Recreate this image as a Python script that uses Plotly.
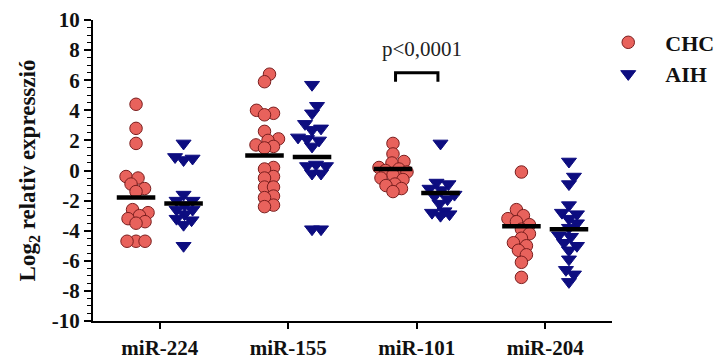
import plotly.graph_objects as go

# ---------------- data ----------------
categories = ["miR-224", "miR-155", "miR-101", "miR-204"]
series_names = ["CHC", "AIH"]

chc_224 = [4.4, 2.8, 1.8, -0.4, -0.5, -0.9, -1.2, -1.4, -2.6, -2.8, -3.0, -3.2, -3.4, -3.5, -4.7, -4.7, -4.7]
chc_155 = [6.4, 5.9, 4.0, 3.8, 3.7, 2.6, 2.1, 2.0, 1.7, 1.6, 1.5, 0.2, 0.1, -0.4, -0.5, -1.1, -1.1, -1.7, -1.8, -2.3, -2.4]
chc_101 = [1.8, 1.1, 0.6, 0.5, 0.2, 0.1, 0.0, -0.1, -0.3, -0.5, -0.6, -0.9, -1.0, -1.2, -1.4]
chc_204 = [-0.1, -2.6, -3.0, -3.2, -3.4, -3.6, -3.9, -4.2, -4.5, -4.8, -5.0, -5.3, -5.6, -6.1, -7.1]

aih_224 = [1.8, 0.9, 0.8, 0.7, -1.6, -2.0, -2.0, -2.3, -2.6, -2.6, -2.9, -3.2, -3.3, -3.6, -5.0]
aih_155 = [5.7, 4.3, 3.8, 3.1, 2.8, 2.7, 2.2, 2.1, 2.0, 1.6, 0.4, 0.3, 0.3, -0.2, -0.2, -3.9, -3.9]
aih_101 = [1.8, -0.8, -0.9, -1.2, -1.3, -1.6, -1.7, -1.9, -2.2, -2.7, -2.8, -2.9, -3.0]
aih_204 = [0.6, -0.4, -0.9, -2.3, -2.8, -2.9, -3.2, -3.5, -3.8, -4.3, -4.4, -4.8, -5.0, -5.3, -5.9, -6.6, -6.9, -7.4]

chc_medians = [-1.8, 1.0, 0.1, -3.7]
aih_medians = [-2.2, 0.9, -1.5, -3.9]

y_tick_values = list(range(-10, 11, 2))
y_tick_labels = [str(v) for v in y_tick_values]  # hyphen minus like the original

p_label = "p<0,0001"
p_category = 2

# ---------------- layout helpers ----------------
W, H = 717, 362
ML, MR, MT, MB = 93, 105, 20, 41
X_RANGE = [-0.52, 3.52]
Y_RANGE = [-10, 10]
PX_X = (W - ML - MR) / (X_RANGE[1] - X_RANGE[0])
PX_Y = (H - MT - MB) / (Y_RANGE[1] - Y_RANGE[0])
GROUP_OFF = 0.185
HALF_MED = 0.15
MAX_SPREAD = 14  # px


def beeswarm(vals, diam):
    placed = []
    out = [0.0] * len(vals)
    order = sorted(range(len(vals)), key=lambda i: vals[i])
    for i in order:
        y = vals[i] * PX_Y
        best = None
        k = 0
        while k * 0.5 <= MAX_SPREAD:
            for sgn in ([1] if k == 0 else [1, -1]):
                x = sgn * k * 0.5
                if all((x - px) ** 2 + (y - py) ** 2 >= diam * diam for px, py in placed):
                    best = x
                    break
            if best is not None:
                break
            k += 1
        if best is None:
            cands = [s * 0.5 for s in range(int(-MAX_SPREAD * 2), int(MAX_SPREAD * 2) + 1)]
            best = max(cands, key=lambda x: min(((x - px) ** 2 + (y - py) ** 2) for px, py in placed))
        placed.append((best, y))
        out[i] = best / PX_X
    return out


chc_groups = [chc_224, chc_155, chc_101, chc_204]
aih_groups = [aih_224, aih_155, aih_101, aih_204]

fig = go.Figure()

RED = "#E8625C"
RED_EDGE = "#7A1E1E"
NAVY = "#0D0D80"
SERIF = "Liberation Serif, Times New Roman, Times, serif"

for name, groups, off, sym, col, edge, size, diam in [
    ("CHC", chc_groups, -GROUP_OFF, "circle", RED, RED_EDGE, 12.5, 9),
    ("AIH", aih_groups, GROUP_OFF, "triangle-down", NAVY, NAVY, 13, 9),
]:
    xs, ys = [], []
    for ci, vals in enumerate(groups):
        jit = beeswarm(vals, diam)
        xs += [ci + off + j for j in jit]
        ys += vals
    fig.add_trace(go.Scatter(
        x=xs, y=ys, mode="markers", name=name, legendgroup=name,
        marker=dict(symbol=sym, size=size, color=col,
                    line=dict(color=edge, width=1)),
    ))

# median lines
for meds, off in [(chc_medians, -GROUP_OFF), (aih_medians, GROUP_OFF)]:
    mx, my = [], []
    for ci, m in enumerate(meds):
        mx += [ci + off - HALF_MED, ci + off + HALF_MED, None]
        my += [m, m, None]
    fig.add_trace(go.Scatter(x=mx, y=my, mode="lines", showlegend=False,
                             line=dict(color="black", width=4.5), hoverinfo="skip"))

# significance bracket
b_lo, b_hi = 5.9, 6.5
fig.add_trace(go.Scatter(
    x=[p_category - GROUP_OFF + 0.02, p_category - GROUP_OFF + 0.02,
       p_category + GROUP_OFF - 0.02, p_category + GROUP_OFF - 0.02],
    y=[b_lo, b_hi, b_hi, b_lo], mode="lines", showlegend=False,
    line=dict(color="black", width=3), hoverinfo="skip"))
fig.add_annotation(x=p_category + 0.04, y=8.1, text=p_label, showarrow=False,
                   font=dict(family=SERIF, size=21, color="#222"))

fig.update_layout(
    width=W, height=H,
    margin=dict(l=ML, r=MR, t=MT, b=MB, pad=0, autoexpand=False),
    paper_bgcolor="white", plot_bgcolor="white",
    font=dict(family=SERIF, color="black"),
    showlegend=True,
    legend=dict(x=0.96, xanchor="left", y=0.995, yanchor="top",
                font=dict(family=SERIF, size=22, weight="bold", color="#111"),
                tracegroupgap=0, itemwidth=64,
                bgcolor="rgba(0,0,0,0)"),
)
fig.update_xaxes(
    range=X_RANGE, tickvals=list(range(len(categories))), ticktext=categories,
    showgrid=False, zeroline=False, showline=True, linecolor="black", linewidth=2,
    ticks="outside", ticklen=6, tickwidth=2, tickcolor="black",
    ticklabelstandoff=1, automargin=False,
    tickfont=dict(family=SERIF, size=21, weight="bold", color="#111"),
)
fig.update_yaxes(
    range=Y_RANGE, tickvals=y_tick_values, ticktext=y_tick_labels,
    showgrid=False, zeroline=False, showline=True, linecolor="black", linewidth=2,
    ticks="outside", ticklen=7, tickwidth=2, tickcolor="black",
    minor=dict(dtick=0.5, ticks="outside", ticklen=4, tickwidth=1, tickcolor="black"),
    automargin=False,
    tickfont=dict(family=SERIF, size=21, weight="bold", color="#111"),
    title=dict(text="Log<sub>2</sub> relativ expresszió", standoff=10,
               font=dict(family=SERIF, size=23, weight="bold", color="#111")),
)

fig.write_html("out.html")
